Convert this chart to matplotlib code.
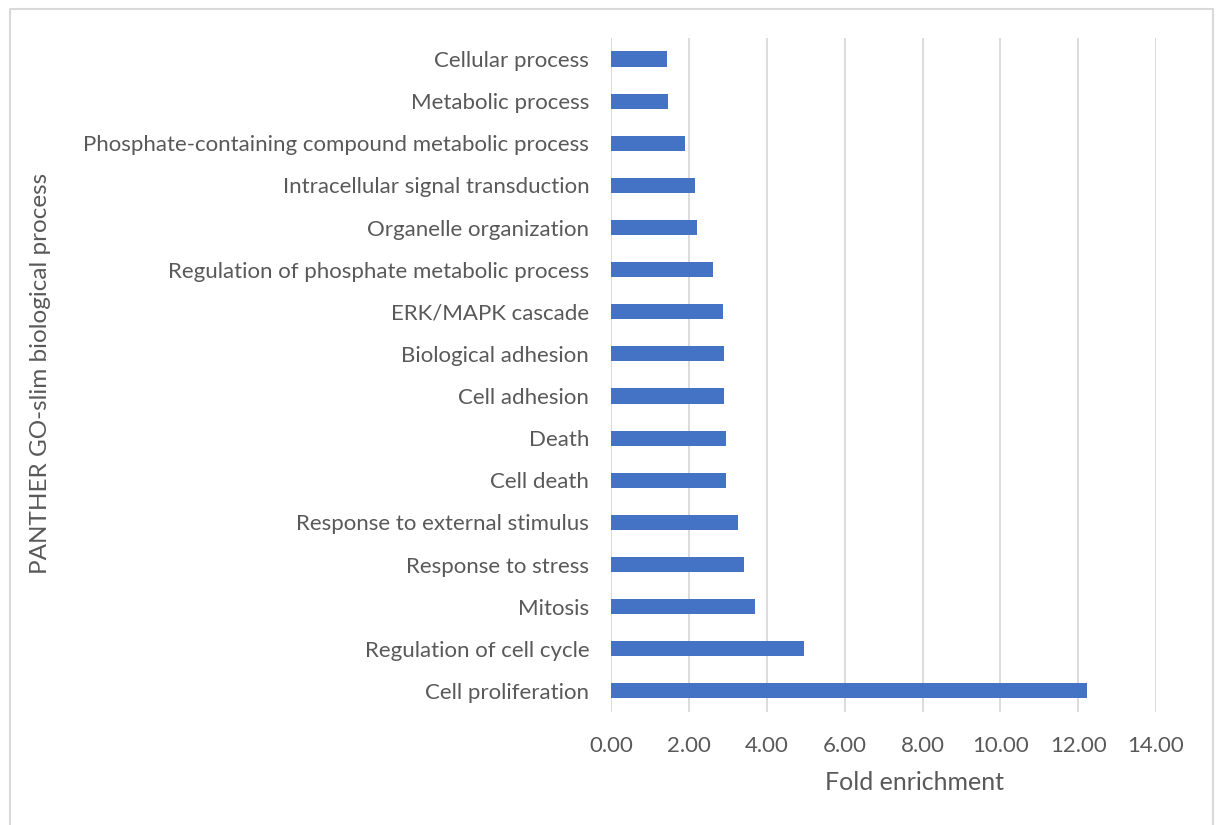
import matplotlib
matplotlib.use('Agg')
import matplotlib.pyplot as plt
from matplotlib.lines import Line2D

plt.rcParams['font.family'] = ['Lato', 'DejaVu Sans']

processes = ['Cellular process', 'Metabolic process',
             'Phosphate-containing compound metabolic process',
             'Intracellular signal transduction', 'Organelle organization',
             'Regulation of phosphate metabolic process', 'ERK/MAPK cascade',
             'Biological adhesion', 'Cell adhesion', 'Death', 'Cell death',
             'Response to external stimulus', 'Response to stress', 'Mitosis',
             'Regulation of cell cycle', 'Cell proliferation']
fold = [1.42, 1.46, 1.90, 2.14, 2.21, 2.62, 2.86, 2.89,
        2.89, 2.94, 2.94, 3.25, 3.41, 3.70, 4.95, 12.23]
xticks = [0, 2, 4, 6, 8, 10, 12, 14]

text_col = '#595959'
grid_col = '#d9d9d9'

fig = plt.figure(figsize=(12.18, 8.25), dpi=100)
ax = fig.add_axes([0.502, 0.137, 0.447, 0.817])

ypos = list(range(len(processes)))[::-1]
ax.barh(ypos, fold, height=0.36, color='#4472C4', zorder=3)

ax.set_xlim(0, 14)
ax.set_ylim(-0.5, len(processes) - 0.5)
ax.set_xticks(xticks)
ax.set_xticklabels([f'{v:.2f}' for v in xticks])
ax.set_yticks(ypos)
ax.set_yticklabels(processes)
ax.tick_params(length=0, labelsize=16, labelcolor=text_col)
ax.tick_params(axis='x', pad=17)
ax.tick_params(axis='y', pad=16)
ax.grid(axis='x', color=grid_col, linewidth=1.3, zorder=0)
for s in ax.spines.values():
    s.set_visible(False)

ax.set_xlabel('Fold enrichment', fontsize=18, color=text_col, labelpad=11)
ax.xaxis.label.set_x(0.557)
fig.text(0.033, 0.547, 'PANTHER GO-slim biological process', rotation=90,
         fontsize=17.5, color=text_col, ha='center', va='center')

# chart frame
fig.add_artist(Line2D([0.0078, 0.0078, 0.9955, 0.9955], [0.0, 0.989, 0.989, 0.0],
                      color=grid_col, linewidth=1.5, transform=fig.transFigure))

fig.savefig('out.png', dpi=100)
